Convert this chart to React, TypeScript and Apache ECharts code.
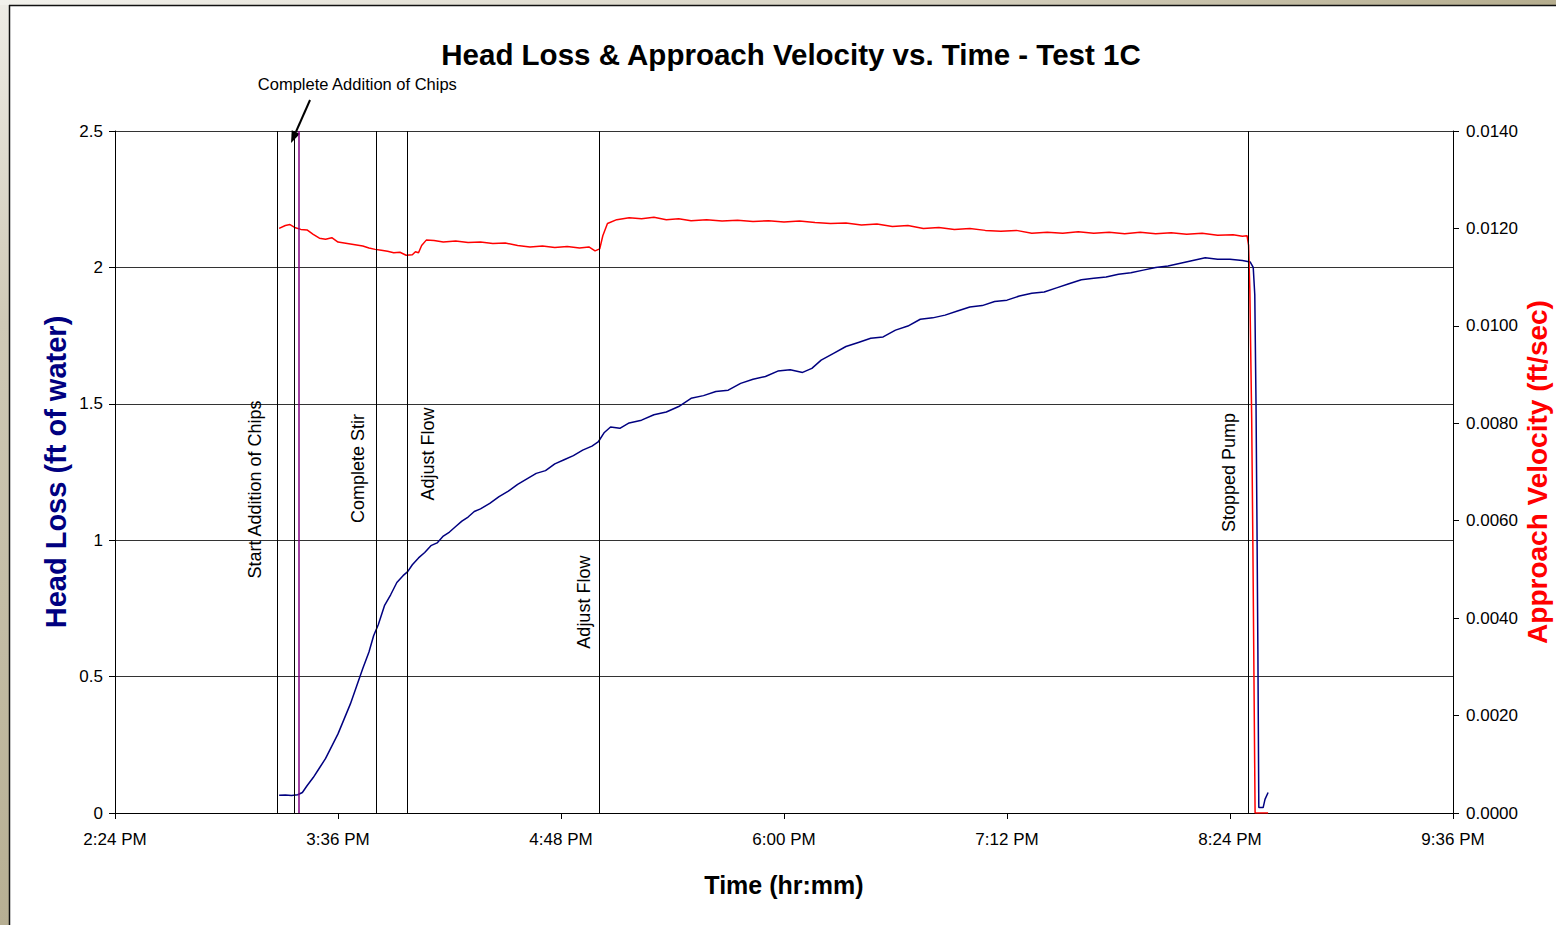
import React, { useEffect, useRef } from "react";
import * as echarts from "echarts";

// Time in minutes after midnight
const headLossTimes = [
  917, 919, 921, 923, 924.5, 926, 928, 930, 932, 934, 936, 938, 940, 942, 944, 946, 947.5, 949, 951, 953,
  955, 957, 958.5, 960, 962, 964, 966, 968, 970, 972, 974, 976, 978, 980, 982, 985, 988, 991, 994, 997,
  1000, 1003, 1006, 1009, 1012, 1015, 1018, 1020, 1022, 1024, 1027, 1030, 1034, 1038, 1042, 1046, 1050,
  1054, 1058, 1062, 1066, 1070, 1074, 1078, 1082, 1086, 1089, 1092, 1096, 1100, 1104, 1108, 1112, 1116,
  1120, 1124, 1128, 1132, 1136, 1140, 1144, 1148, 1152, 1156, 1160, 1164, 1168, 1172, 1176, 1180, 1184,
  1188, 1192, 1196, 1200, 1204, 1208, 1212, 1216, 1220, 1224, 1228, 1230.5, 1231.5, 1232, 1232.4, 1232.7,
  1233, 1233.3, 1234.7, 1235.3, 1236.3,
];
const headLossValues = [
  0.065, 0.066, 0.064, 0.067, 0.075, 0.1, 0.13, 0.165, 0.2, 0.245, 0.29, 0.345, 0.4, 0.465, 0.53, 0.59, 0.65,
  0.69, 0.76, 0.8, 0.845, 0.87, 0.885, 0.91, 0.935, 0.955, 0.98, 0.99, 1.015, 1.03, 1.05, 1.07, 1.085, 1.105,
  1.115, 1.135, 1.16, 1.18, 1.205, 1.225, 1.245, 1.255, 1.28, 1.295, 1.31, 1.33, 1.345, 1.36, 1.395, 1.415,
  1.41, 1.43, 1.44, 1.46, 1.47, 1.49, 1.52, 1.53, 1.545, 1.55, 1.575, 1.59, 1.6, 1.62, 1.625, 1.615, 1.63,
  1.66, 1.685, 1.71, 1.725, 1.74, 1.745, 1.77, 1.785, 1.81, 1.815, 1.825, 1.84, 1.855, 1.86, 1.875, 1.88,
  1.895, 1.905, 1.91, 1.925, 1.94, 1.955, 1.96, 1.965, 1.975, 1.98, 1.99, 2.0, 2.005, 2.015, 2.025, 2.035,
  2.03, 2.03, 2.025, 2.02, 2.0, 1.9, 1.5, 1.07, 0.6, 0.02, 0.02, 0.05, 0.075,
];

const velocityTimes = [
  917, 919, 920.5, 922, 924, 926, 928, 930, 932, 934, 936, 938, 940, 942, 944, 946, 948, 950, 952, 954, 956,
  958, 960, 961, 962, 963, 964.5, 967, 970, 974, 978, 982, 986, 990, 994, 998, 1002, 1006, 1010, 1014, 1017,
  1019, 1020.5, 1021.5, 1023, 1026, 1030, 1034, 1038, 1042, 1046, 1050, 1055, 1060, 1065, 1070, 1075, 1080,
  1085, 1090, 1095, 1100, 1105, 1110, 1115, 1120, 1125, 1130, 1135, 1140, 1145, 1150, 1155, 1160, 1165,
  1170, 1175, 1180, 1185, 1190, 1195, 1200, 1205, 1210, 1215, 1220, 1225, 1228, 1229.5, 1230, 1230.4, 1231,
  1231.4, 1231.8, 1232.1, 1236.3,
];
const velocityValues = [
  0.012, 0.01206, 0.01208, 0.01202, 0.01198, 0.01197, 0.01188, 0.0118, 0.01178, 0.01181, 0.01172, 0.0117,
  0.01168, 0.01166, 0.01164, 0.0116, 0.01157, 0.01155, 0.01153, 0.0115, 0.01151, 0.01145, 0.01146, 0.01152,
  0.0115, 0.01165, 0.01176, 0.01175, 0.01172, 0.01174, 0.01171, 0.01172, 0.01169, 0.0117, 0.01165, 0.01162,
  0.01164, 0.01161, 0.01163, 0.0116, 0.01162, 0.01154, 0.01158, 0.01185, 0.0121, 0.01218, 0.01222, 0.0122,
  0.01223, 0.01218, 0.0122, 0.01216, 0.01218, 0.01215, 0.01217, 0.01214, 0.01216, 0.01213, 0.01215, 0.01212,
  0.0121, 0.01211, 0.01207, 0.01209, 0.01204, 0.01206, 0.012, 0.01202, 0.01198, 0.012, 0.01196, 0.01194,
  0.01196, 0.0119, 0.01192, 0.0119, 0.01193, 0.0119, 0.01192, 0.01189, 0.01192, 0.01189, 0.01191, 0.01188,
  0.0119, 0.01186, 0.01187, 0.01184, 0.01185, 0.01165, 0.01075, 0.0081, 0.0054, 0.0023, 0, 0,
];

const eventTimes = [916.3, 921.9, 948.3, 958.3, 1020.3, 1229.8];
const eventLabels = ["Start Addition of Chips", "Complete Addition of Chips", "Complete Stir", "Adjust Flow", "Adjust Flow", "Stopped Pump"];
const markerTime = 923.2; // purple marker line

// rotated label placement (head-loss value at label centre, horizontal offset px)
const rotatedLabelIdx = [0, 2, 3, 4, 5];
const rotatedLabelY = [1.186, 1.263, 1.316, 0.773, 1.248];
const rotatedLabelDx = [-22, -18, 21, -15, -19];

const xMin = 864; // 2:24 PM
const xMax = 1296; // 9:36 PM
const xStep = 72;

const FONT = "'Liberation Sans', Arial, Helvetica, sans-serif";

function fmtTime(v: number) {
  const h = Math.floor(v / 60);
  const m = Math.round(v - h * 60);
  const h12 = h > 12 ? h - 12 : h;
  return `${h12}:${m < 10 ? "0" + m : m} ${h >= 12 ? "PM" : "AM"}`;
}

export default function App() {
  const ref = useRef<HTMLDivElement>(null);
  useEffect(() => {
    if (!ref.current) return;
    const chart = echarts.init(ref.current, null, { renderer: "svg" });
    const headLoss = headLossTimes.map((t, i) => [t, headLossValues[i]]);
    const velocity = velocityTimes.map((t, i) => [t, velocityValues[i]]);
    const labelData = rotatedLabelIdx.map((ei, k) => [eventTimes[ei], rotatedLabelY[k], k]);

    const option: any = {
      animation: false,
      backgroundColor: "#ffffff",
      title: {
        text: "Head Loss & Approach Velocity vs. Time - Test 1C",
        left: 786,
        textAlign: "center",
        top: 34,
        textStyle: { fontFamily: FONT, fontSize: 29.5, fontWeight: "bold", color: "#000" },
      },
      grid: { left: 115, right: 103, top: 131, bottom: 112, outerBoundsMode: "none", containLabel: false },
      xAxis: {
        type: "value",
        min: xMin,
        max: xMax,
        interval: xStep,
        name: "Time (hr:mm)",
        nameLocation: "middle",
        nameGap: 59,
        nameMoveOverlap: false,
        nameTextStyle: { fontFamily: FONT, fontSize: 25, fontWeight: "bold", color: "#000" },
        axisLine: { show: true, lineStyle: { color: "#000", width: 1 } },
        axisTick: { show: true, length: 6, lineStyle: { color: "#000" } },
        axisLabel: { formatter: (v: number) => fmtTime(v), fontFamily: FONT, fontSize: 17, color: "#000", margin: 18 },
        splitLine: { show: false },
      },
      yAxis: [
        {
          type: "value",
          min: 0,
          max: 2.5,
          interval: 0.5,
          name: "Head Loss (ft of water)",
          nameLocation: "middle",
          nameRotate: 90,
          nameGap: 45,
          nameMoveOverlap: false,
          nameTextStyle: { fontFamily: FONT, fontSize: 29, fontWeight: "bold", color: "#000080" },
          axisLine: { show: true, lineStyle: { color: "#000", width: 1 } },
          axisTick: { show: true, length: 6, lineStyle: { color: "#000" } },
          axisLabel: { fontFamily: FONT, fontSize: 17, color: "#000", margin: 12 },
          splitLine: { show: true, lineStyle: { color: "#333", width: 1 } },
        },
        {
          type: "value",
          min: 0,
          max: 0.014,
          interval: 0.002,
          position: "right",
          name: "Approach Velocity (ft/sec)",
          nameLocation: "middle",
          nameRotate: 90,
          nameGap: 70,
          nameMoveOverlap: false,
          nameTextStyle: { fontFamily: FONT, fontSize: 28, fontWeight: "bold", color: "#ff0000" },
          axisLine: { show: true, lineStyle: { color: "#000", width: 1 } },
          axisTick: { show: true, length: 6, lineStyle: { color: "#000" } },
          axisLabel: { formatter: (v: number) => v.toFixed(4), fontFamily: FONT, fontSize: 17, color: "#000", margin: 13 },
          splitLine: { show: false },
        },
      ],
      series: [
        {
          name: "Head Loss",
          type: "line",
          yAxisIndex: 0,
          data: headLoss,
          showSymbol: false,
          lineStyle: { color: "#000080", width: 1.5 },
          itemStyle: { color: "#000080" },
          z: 3,
          markLine: {
            silent: true,
            symbol: "none",
            label: { show: false },
            data: [
              ...eventTimes.map((t) => ({ xAxis: t, lineStyle: { color: "#000", width: 1, type: "solid" } })),
              { xAxis: markerTime, lineStyle: { color: "#800080", width: 1.5, type: "solid" } },
            ],
          },
        },
        {
          name: "Approach Velocity",
          type: "line",
          yAxisIndex: 1,
          data: velocity,
          showSymbol: false,
          lineStyle: { color: "#ff0000", width: 1.5 },
          itemStyle: { color: "#ff0000" },
          z: 4,
        },
        {
          name: "Event labels",
          type: "custom",
          xAxisIndex: 0,
          yAxisIndex: 0,
          data: labelData,
          silent: true,
          renderItem: (params: any, api: any) => {
            const k = api.value(2);
            const p = api.coord([api.value(0), api.value(1)]);
            return {
              type: "text",
              x: p[0] + rotatedLabelDx[k],
              y: p[1],
              rotation: Math.PI / 2,
              style: {
                text: eventLabels[rotatedLabelIdx[k]],
                fill: "#000",
                fontSize: 18,
                fontFamily: FONT,
                align: "center",
                verticalAlign: "middle",
                textAlign: "center",
                textVerticalAlign: "middle",
              },
            };
          },
        },
      ],
    };
    chart.setOption(option);

    const p = chart.convertToPixel({ xAxisIndex: 0, yAxisIndex: 0 }, [eventTimes[1], 2.5]) as number[];
    chart.setOption({
      graphic: [
        {
          type: "rect",
          shape: { x: 0, y: 0, width: 9, height: 925 },
          style: {
            fill: new echarts.graphic.LinearGradient(0, 0, 0, 1, [
              { offset: 0, color: "#eeece6" },
              { offset: 0.35, color: "#cfc9b6" },
              { offset: 1, color: "#b7af93" },
            ]),
          },
          silent: true,
        },
        {
          type: "rect",
          shape: { x: 0, y: 0, width: 1556, height: 5 },
          style: {
            fill: new echarts.graphic.LinearGradient(0, 0, 1, 0, [
              { offset: 0, color: "#f2f1ec" },
              { offset: 0.6, color: "#d6d1c0" },
              { offset: 1, color: "#b5ad8e" },
            ]),
          },
          silent: true,
        },
        { type: "line", shape: { x1: 9.5, y1: 5, x2: 9.5, y2: 925 }, style: { stroke: "#111", lineWidth: 1.5 }, silent: true },
        { type: "line", shape: { x1: 9, y1: 5.5, x2: 1556, y2: 5.5 }, style: { stroke: "#111", lineWidth: 1.5 }, silent: true },
        {
          type: "text",
          x: p[0] + 63,
          y: p[1] - 47,
          style: {
            text: eventLabels[1],
            fill: "#000",
            fontSize: 16.5,
            fontFamily: FONT,
            align: "center",
            verticalAlign: "middle",
            textAlign: "center",
            textVerticalAlign: "middle",
          },
          silent: true,
        },
        {
          type: "line",
          shape: { x1: p[0] + 15.7, y1: p[1] - 31, x2: p[0] + 1.55, y2: p[1] + 1 },
          style: { stroke: "#000", lineWidth: 2 },
          silent: true,
        },
        {
          type: "polygon",
          shape: { points: [[p[0] - 3.3, p[1] + 12], [p[0] + 5.7, p[1] + 2.8], [p[0] - 2.6, p[1] - 0.8]] },
          style: { fill: "#000" },
          silent: true,
        },
      ],
    });

    return () => chart.dispose();
  }, []);
  return (
    <div
      ref={ref}
      style={{ position: "fixed", left: 0, top: 0, width: 1556, height: 925, background: "#fff" }}
    />
  );
}
